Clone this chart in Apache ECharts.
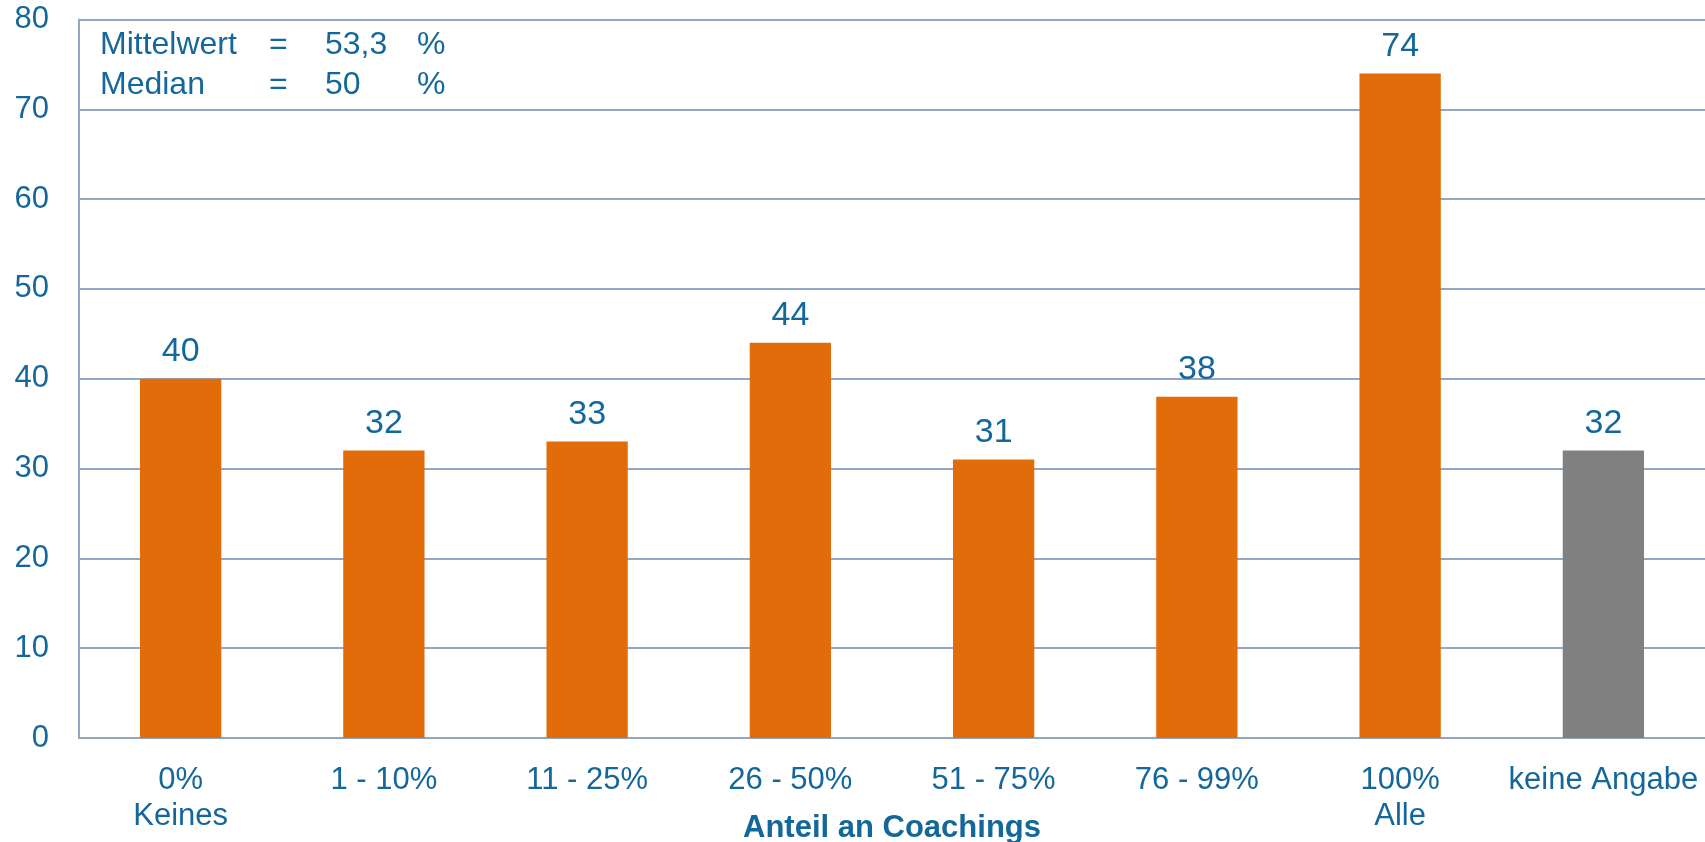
<!DOCTYPE html>
<html>
<head>
<meta charset="utf-8">
<script src="https://cdn.jsdelivr.net/npm/echarts@6/dist/echarts.min.js"></script>
<style>
  html, body { margin: 0; padding: 0; background: #ffffff; }
  #chart { width: 1705px; height: 842px; }
</style>
</head>
<body>
<div id="chart"></div>
<script>
// Share of coachings — counts per category
const categories = ['0%\nKeines', '1 - 10%', '11 - 25%', '26 - 50%', '51 - 75%', '76 - 99%', '100%\nAlle', 'keine Angabe'];
const counts = [40, 32, 33, 44, 31, 38, 74, 32];
const noAnswerIndex = 7;
const yTicks = { min: 0, max: 80, interval: 10 };
const axisTitle = 'Anteil an Coachings';
const statLabels = ['Mittelwert', 'Median'];
const statValues = ['53,3', '50'];
const statUnit = '%';

const TEXT = '#14679A';
const ORANGE = '#E36C0A';
const GREY = '#808080';
const LINE = '#93A7C2';
const FONT = "Arial, 'Liberation Sans', sans-serif";
const NARROW = "'Arial Narrow', 'Liberation Sans Narrow', 'Liberation Sans', sans-serif";

const chart = echarts.init(document.getElementById('chart'), null, { renderer: 'canvas' });

const GRID = { left: 79, right: 0, top: 19.5, bottom: 104 };

// Stats box text (rows of: label, "=", value, unit)
const statGraphics = [];
statLabels.forEach((lab, i) => {
  const y = 45 + i * 40;
  const cols = [[100, lab], [269, '='], [325, statValues[i]], [417, statUnit]];
  cols.forEach(([x, t]) => {
    statGraphics.push({
      type: 'text', x: x, y: y,
      style: { text: t, fill: TEXT, font: '32px ' + FONT, verticalAlign: 'middle', align: 'left' }
    });
  });
});

chart.setOption({
  animation: false,
  backgroundColor: '#ffffff',
  grid: GRID,
  xAxis: {
    type: 'category',
    data: categories,
    axisLine: { show: true, lineStyle: { color: LINE, width: 2 } },
    axisTick: { show: false },
    axisLabel: {
      color: TEXT, fontSize: 31, fontFamily: FONT, lineHeight: 36,
      margin: 24, interval: 0
    },
    splitLine: { show: false }
  },
  yAxis: {
    type: 'value',
    min: yTicks.min, max: yTicks.max, interval: yTicks.interval,
    axisLine: { show: true, lineStyle: { color: LINE, width: 2 } },
    axisTick: { show: false },
    axisLabel: { color: TEXT, fontSize: 31, fontFamily: FONT, margin: 30 },
    splitLine: { show: true, lineStyle: { color: LINE, width: 2 } }
  },
  series: [{
    type: 'bar',
    barWidth: '40%',
    data: counts.map((v, i) => ({
      value: v,
      itemStyle: { color: i === noAnswerIndex ? GREY : ORANGE }
    })),
    label: {
      show: true, position: 'top', distance: 10,
      color: TEXT, fontSize: 34, fontFamily: NARROW
    }
  }],
  graphic: statGraphics.concat([{
    type: 'text',
    x: GRID.left + (1705 - GRID.left - GRID.right) / 2,
    y: 828,
    style: {
      text: axisTitle, fill: TEXT, font: 'bold 31px ' + FONT,
      align: 'center', verticalAlign: 'middle'
    }
  }])
});
</script>
</body>
</html>
